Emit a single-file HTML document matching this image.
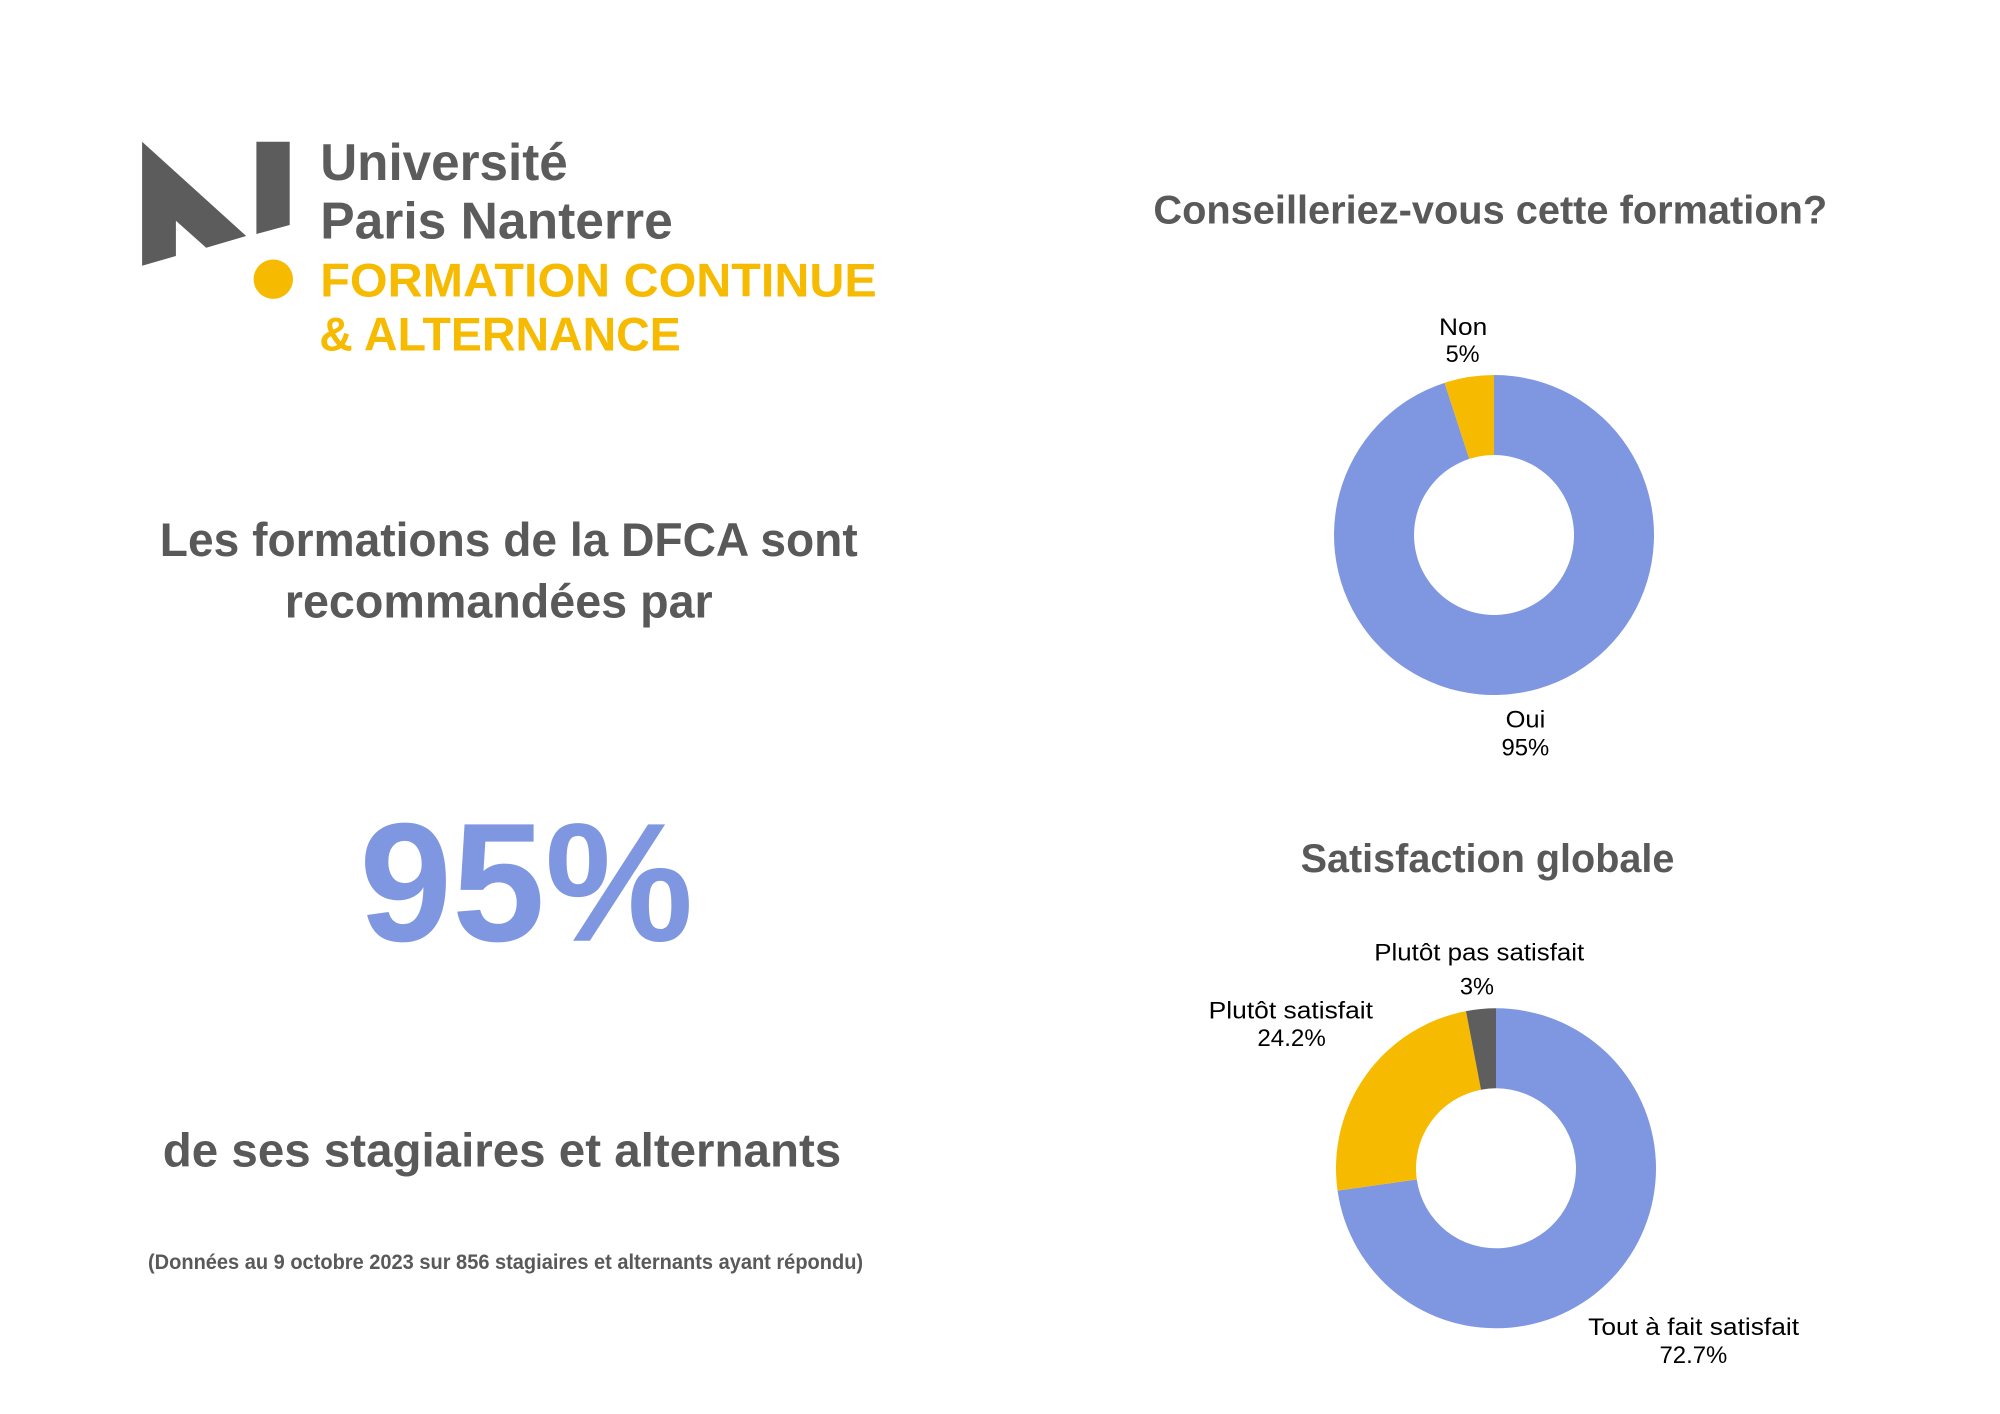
<!DOCTYPE html>
<html><head><meta charset="utf-8"><style>
html,body{margin:0;padding:0;background:#fff;}
svg{display:block;}
text{font-family:"Liberation Sans",sans-serif;}
</style></head><body>
<svg width="2000" height="1414" viewBox="0 0 2000 1414" xmlns="http://www.w3.org/2000/svg">
<rect width="2000" height="1414" fill="#ffffff"/>
<!-- Logo -->
<polygon points="142.1,141.7 246.2,236 206.2,247.7 175.9,220.7 175.9,256 142.1,265.7" fill="#5c5c5c"/>
<polygon points="256.4,141.7 289.7,141.7 289.7,225 256.4,234" fill="#5c5c5c"/>
<circle cx="273.3" cy="279.2" r="19.7" fill="#f6bb00"/>
<text x="320.2" y="180" font-size="52" font-weight="bold" fill="#5c5c5c" textLength="247.6" lengthAdjust="spacingAndGlyphs">Université</text>
<text x="320.2" y="238.7" font-size="52" font-weight="bold" fill="#5c5c5c" textLength="352.6" lengthAdjust="spacingAndGlyphs">Paris Nanterre</text>
<text x="320.3" y="296.7" font-size="47" font-weight="bold" fill="#f6bb00" textLength="556.4" lengthAdjust="spacingAndGlyphs">FORMATION CONTINUE</text>
<text x="319.3" y="350.7" font-size="47" font-weight="bold" fill="#f6bb00" textLength="361.4" lengthAdjust="spacingAndGlyphs">&amp; ALTERNANCE</text>

<!-- Left text -->
<text x="159.8" y="556" font-size="47" font-weight="bold" fill="#595959" textLength="697.9" lengthAdjust="spacingAndGlyphs">Les formations de la DFCA sont</text>
<text x="284.8" y="617.3" font-size="47" font-weight="bold" fill="#595959" textLength="427.9" lengthAdjust="spacingAndGlyphs">recommandées par</text>
<text x="359.3" y="940.7" font-size="169" font-weight="bold" fill="#7f96e1" textLength="334" lengthAdjust="spacingAndGlyphs">95%</text>
<text x="162.8" y="1166.5" font-size="47" font-weight="bold" fill="#595959" textLength="678.4" lengthAdjust="spacingAndGlyphs">de ses stagiaires et alternants</text>
<text x="148" y="1269" font-size="21" font-weight="bold" fill="#595959" textLength="715.1" lengthAdjust="spacingAndGlyphs">(Données au 9 octobre 2023 sur 856 stagiaires et alternants ayant répondu)</text>

<!-- Chart 1 -->
<text x="1153.4" y="223.5" font-size="40" font-weight="bold" fill="#595959" textLength="673.8" lengthAdjust="spacingAndGlyphs">Conseilleriez-vous cette formation?</text>
<path d="M1494,375 A160,160 0 1 1 1444.56,382.83 L1469.28,458.92 A80,80 0 1 0 1494,455 Z" fill="#7f96e1"/>
<path d="M1444.56,382.83 A160,160 0 0 1 1494,375 L1494,455 A80,80 0 0 0 1469.28,458.92 Z" fill="#f6bb00"/>
<text x="1439" y="334.8" font-size="24" fill="#000" textLength="48.2" lengthAdjust="spacingAndGlyphs">Non</text>
<text x="1445.6" y="361.8" font-size="24" fill="#000" textLength="34" lengthAdjust="spacingAndGlyphs">5%</text>
<text x="1505.6" y="727.7" font-size="24" fill="#000" textLength="39.7" lengthAdjust="spacingAndGlyphs">Oui</text>
<text x="1501.5" y="755.6" font-size="24" fill="#000" textLength="47.8" lengthAdjust="spacingAndGlyphs">95%</text>

<!-- Chart 2 -->
<text x="1300.6" y="871.8" font-size="40" font-weight="bold" fill="#595959" textLength="373.8" lengthAdjust="spacingAndGlyphs">Satisfaction globale</text>
<path d="M1496,1008.3 A160,160 0 1 1 1337.56,1190.62 L1416.78,1179.46 A80,80 0 1 0 1496,1088.3 Z" fill="#7f96e1"/>
<path d="M1337.56,1190.62 A160,160 0 0 1 1465.99,1011.14 L1481.0,1089.72 A80,80 0 0 0 1416.78,1179.46 Z" fill="#f6bb00"/>
<path d="M1465.99,1011.14 A160,160 0 0 1 1496,1008.3 L1496,1088.3 A80,80 0 0 0 1481.0,1089.72 Z" fill="#5e5e5e"/>
<text x="1374.3" y="960.4" font-size="24" fill="#000" textLength="209.9" lengthAdjust="spacingAndGlyphs">Plutôt pas satisfait</text>
<text x="1459.9" y="994.6" font-size="24" fill="#000" textLength="34.1" lengthAdjust="spacingAndGlyphs">3%</text>
<text x="1208.7" y="1018.6" font-size="24" fill="#000" textLength="164.3" lengthAdjust="spacingAndGlyphs">Plutôt satisfait</text>
<text x="1257.4" y="1046.2" font-size="24" fill="#000" textLength="68.4" lengthAdjust="spacingAndGlyphs">24.2%</text>
<text x="1588.2" y="1335.1" font-size="24" fill="#000" textLength="210.9" lengthAdjust="spacingAndGlyphs">Tout à fait satisfait</text>
<text x="1659.5" y="1363" font-size="24" fill="#000" textLength="67.8" lengthAdjust="spacingAndGlyphs">72.7%</text>
</svg>
</body></html>
